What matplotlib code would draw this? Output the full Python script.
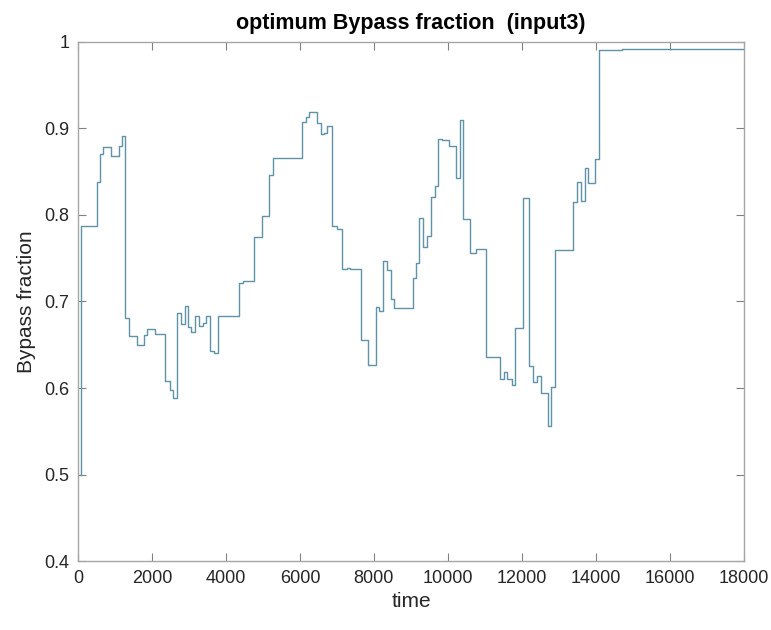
import matplotlib
matplotlib.use("Agg")
import matplotlib.pyplot as plt

plt.rcParams["font.family"] = ["Liberation Sans", "DejaVu Sans"]

# optimiser output: step changes of the bypass fraction over time
time = [0, 72, 505, 595, 685, 883, 1099, 1180, 1279, 1388, 1586, 1775,
        1874, 2081, 2361, 2478, 2577, 2667, 2784, 2901, 2973, 3063, 3163,
        3262, 3370, 3460, 3568, 3676, 3775, 4361, 4451, 4757, 4965, 5172,
        5262, 6046, 6163, 6253, 6451, 6559, 6649, 6739, 6857, 7010, 7145,
        7262, 7352, 7650, 7848, 8046, 8145, 8253, 8343, 8451, 8541, 9046,
        9136, 9227, 9317, 9425, 9533, 9641, 9722, 9830, 10028, 10218,
        10326, 10416, 10596, 10758, 11028, 11407, 11515, 11605, 11722,
        11822, 12020, 12200, 12308, 12416, 12506, 12705, 12795, 12903,
        13388, 13496, 13604, 13695, 13794, 13983, 14091, 14695, 18000]
bypass = [0.500, 0.787, 0.838, 0.870, 0.878, 0.868, 0.880, 0.891, 0.681,
          0.660, 0.650, 0.661, 0.668, 0.663, 0.608, 0.598, 0.589, 0.687,
          0.674, 0.695, 0.671, 0.665, 0.683, 0.672, 0.675, 0.683, 0.643,
          0.640, 0.683, 0.721, 0.724, 0.774, 0.799, 0.846, 0.866, 0.907,
          0.913, 0.919, 0.906, 0.893, 0.895, 0.902, 0.787, 0.784, 0.737,
          0.739, 0.737, 0.655, 0.627, 0.694, 0.689, 0.747, 0.736, 0.703,
          0.692, 0.727, 0.744, 0.796, 0.763, 0.776, 0.821, 0.833, 0.888,
          0.886, 0.879, 0.843, 0.909, 0.795, 0.756, 0.761, 0.636, 0.610,
          0.619, 0.610, 0.604, 0.669, 0.819, 0.625, 0.607, 0.614, 0.594,
          0.556, 0.601, 0.759, 0.815, 0.838, 0.816, 0.854, 0.837, 0.865,
          0.990, 0.991, 0.991]

xticks = [0, 2000, 4000, 6000, 8000, 10000, 12000, 14000, 16000, 18000]
yticks = [0.4, 0.5, 0.6, 0.7, 0.8, 0.9, 1.0]
ylabels = ["0.4", "0.5", "0.6", "0.7", "0.8", "0.9", "1"]

fig = plt.figure(figsize=(7.71, 6.30), dpi=100)
ax = fig.add_axes([0.101, 0.109, 0.864, 0.825])

ax.step(time, bypass, where="post", color="#5f93a8", lw=1.0)

ax.set_xlim(0, 18000)
ax.set_ylim(0.4, 1.0)
ax.set_xticks(xticks)
ax.set_xticklabels([str(v) for v in xticks])
ax.set_yticks(yticks)
ax.set_yticklabels(ylabels)

for s in ax.spines.values():
    s.set_color("#a6a6a6")
    s.set_linewidth(1.0)
ax.tick_params(direction="in", length=6, width=0.8, color="#808080",
               labelsize=13, labelcolor="#262626", top=True, right=True,
               pad=6)

ax.set_xlabel("time", fontsize=15, color="#262626", labelpad=4)
ax.set_ylabel("Bypass fraction", fontsize=15, color="#262626", labelpad=6)
ax.set_title("optimum Bypass fraction  (input3)", fontsize=15.5,
             fontweight="bold", color="#000000", pad=9)

fig.savefig("out.png", dpi=100)
